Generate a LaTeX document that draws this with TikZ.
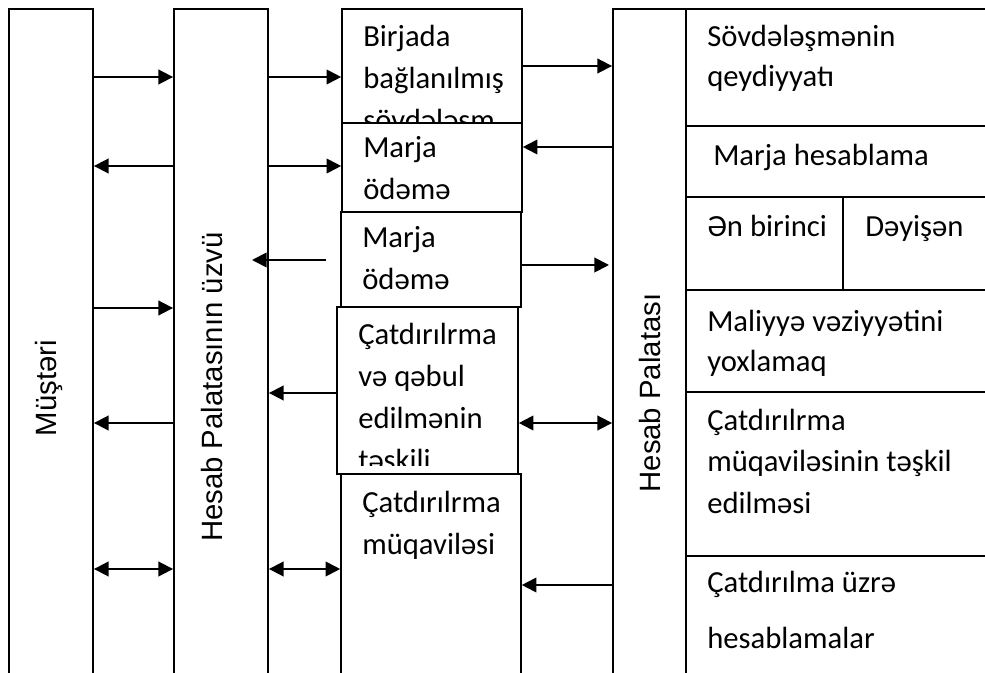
\documentclass[tikz,border=0pt]{standalone}
\usepackage{fontspec}
\setmainfont{Carlito}
\newfontfamily\arialf{Liberation Sans}
\usetikzlibrary{arrows.meta,fit}
\begin{document}
\begin{tikzpicture}[x=0.75pt,y=-0.75pt,
  col/.style={draw,line width=1.4pt,inner sep=0pt},
  mbox/.style={draw,fill=white,line width=1.2pt,inner sep=0pt},
  cell/.style={draw,line width=1.2pt,inner sep=0pt},
  txt/.style={font=\fontsize{23}{31.5}\selectfont,align=left,anchor=base west,inner sep=0pt},
  tbl/.style={font=\fontsize{23}{30}\selectfont,align=left,anchor=base west,inner sep=0pt},
  vlab/.style={font=\arialf\fontsize{22}{26}\selectfont,rotate=90,anchor=base,inner sep=0pt},
  arr/.style={line width=1.4pt,-{Triangle[length=11pt,width=11pt]}},
  darr/.style={line width=1.4pt,{Triangle[length=11pt,width=11pt]}-{Triangle[length=11pt,width=11pt]}}]
\useasboundingbox (0,0) rectangle (985,673);
\clip (0,0) rectangle (985,673);
% columns
\node[col,fit={(9,9)(93,700)}] (c1) {};
\node[col,fit={(174,9)(268,700)}] (c2) {};
\node[col,fit={(613,9)(686,700)}] (c4) {};
\node[vlab] (l1) at (56,388) {Müştəri};
\node[vlab] (l2) at (222,387) {Hesab Palatasının üzvü};
\node[vlab] (l4) at (660,393) {Hesab Palatası};
% middle boxes (text node anchored at the baseline of its last line)
\node[mbox,fit={(342,9)(522,123)}] (b1) {};
\node[txt] (tb1) at (363,131) {Birjada\\bağlanılmış\\sövdələşm};
\node[mbox,fit={(342,123)(522,212)}] (b2) {};
\node[txt] (tb2) at (363,200) {Marja\\ödəmə};
\node[mbox,fit={(341,212)(521,307)}] (b3) {};
\node[txt] (tb3) at (362,290) {Marja\\ödəmə};
\node[mbox,fit={(337,307)(518,474)}] (b4) {};
\begin{scope}
\clip (337,307) rectangle (518,465);
\node[txt] (tb4) at (358,470) {Çatdırılrma\\və qəbul\\edilmənin\\təşkili};
\end{scope}
\node[mbox,fit={(341,474)(521,700)}] (b5) {};
\node[txt] (tb5) at (362,554) {Çatdırılrma\\müqaviləsi};
% right table
\node[cell,fit={(686,9)(1000,126)}] (r1) {};
\node[cell,fit={(686,126)(1000,197)}] (r2) {};
\node[cell,fit={(686,197)(843,290)}] (r3a) {};
\node[cell,fit={(843,197)(1000,290)}] (r3b) {};
\node[cell,fit={(686,290)(1000,392)}] (r4) {};
\node[cell,fit={(686,392)(1000,556)}] (r5) {};
\node[cell,fit={(686,556)(1000,700)}] (r6) {};
\node[tbl] (tr1) at (707,87) {Sövdələşmənin\\qeydiyyatı};
\node[tbl] (tr2) at (713,166) {Marja hesablama};
\node[tbl] (tr3a) at (707,237) {Ən birinci};
\node[tbl] (tr3b) at (865,237) {Dəyişən};
\node[tbl] (tr4) at (707,372) {Maliyyə vəziyyətini\\yoxlamaq};
\node[tbl,font=\fontsize{23}{31}\selectfont] (tr5) at (707,513) {Çatdırılrma\\müqaviləsinin təşkil\\edilməsi};
\node[tbl] (tr6a) at (707,592) {Çatdırılma üzrə};
\node[tbl] (tr6b) at (707,648) {hesablamalar};
% arrows c1 <-> c2
\draw[arr] (c1.east |- 0,77) -- (c2.west |- 0,77);
\draw[arr] (c2.west |- 0,166) -- (c1.east |- 0,166);
\draw[arr] (c1.east |- 0,308) -- (c2.west |- 0,308);
\draw[arr] (c2.west |- 0,423) -- (c1.east |- 0,423);
\draw[darr] (c1.east |- 0,569) -- (c2.west |- 0,569);
% arrows c2 <-> boxes
\draw[arr] (c2.east |- 0,77) -- (b1.west |- 0,77);
\draw[arr] (c2.east |- 0,166) -- (b2.west |- 0,166);
\coordinate (s260) at (326,260);
\coordinate (e260) at (252,260);
\draw[arr] (s260) -- (e260);
\draw[arr] (b4.west |- 0,393) -- (c2.east |- 0,393);
\draw[darr] (c2.east |- 0,569) -- (b5.west |- 0,569);
% arrows boxes <-> c4
\draw[arr] (b1.east |- 0,66) -- (c4.west |- 0,66);
\draw[arr] (c4.west |- 0,147) -- (b2.east |- 0,147);
\coordinate (e265) at (609,265);
\draw[arr] (b3.east |- 0,265) -- (e265);
\draw[darr] (b4.east |- 0,423) -- (c4.west |- 0,423);
\draw[arr] (c4.west |- 0,585) -- (b5.east |- 0,585);
\end{tikzpicture}
\end{document}
